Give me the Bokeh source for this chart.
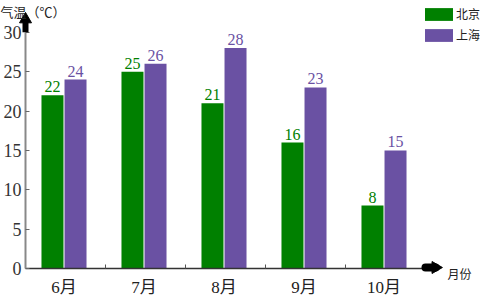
import numpy as np
from bokeh.plotting import figure
from bokeh.models import (Range1d, FixedTicker, Legend, LegendItem, ColumnDataSource)
from bokeh.core.properties import value
from bokeh.embed import file_html
from bokeh.resources import INLINE

months = ["6月", "7月", "8月", "9月", "10月"]
beijing = [22, 25, 21, 16, 8]
shanghai = [24, 26, 28, 23, 15]
y_ticks = [0, 5, 10, 15, 20, 25, 30]

GREEN = "#008000"
PURPLE = "#6a51a3"
SERIF = "'Liberation Serif', 'Noto Sans CJK SC'"
CJK = "'Noto Sans CJK SC'"

n = len(months)
ppx = 80.0          # pixels per category
ppu_y = 238 / 30.0  # pixels per y unit
centers = np.arange(n) + 0.5 - 1.5 / ppx
dodge = 0.144
bw = 0.275

p = figure(width=480, height=299, output_backend="svg", toolbar_location=None,
           x_range=Range1d(0, 455 / ppx), y_range=Range1d(0, 270 / ppu_y),
           min_border_left=25, min_border_right=0, min_border_top=0, min_border_bottom=29)
p.outline_line_color = None
p.xgrid.visible = False
p.ygrid.visible = False
p.background_fill_color = "white"
p.border_fill_color = "white"

src_bj = ColumnDataSource(dict(x=centers - dodge, top=beijing, lab=[str(v) for v in beijing]))
src_sh = ColumnDataSource(dict(x=centers + dodge, top=shanghai, lab=[str(v) for v in shanghai]))

r1 = p.vbar(x="x", top="top", width=bw, bottom=0, source=src_bj, fill_color=GREEN, line_color=None)
r2 = p.vbar(x="x", top="top", width=bw, bottom=0, source=src_sh, fill_color=PURPLE, line_color=None)

p.text(x="x", y="top", text="lab", source=src_bj, text_align="center", text_baseline="bottom",
       y_offset=-3, text_font=value(SERIF), text_font_size="16px", text_color=GREEN)
p.text(x="x", y="top", text="lab", source=src_sh, text_align="center", text_baseline="bottom",
       y_offset=-3, text_font=value(SERIF), text_font_size="16px", text_color=PURPLE)

# x axis
xa = p.xaxis[0]
xa.ticker = FixedTicker(ticks=list(centers), minor_ticks=list(np.arange(1, n)))
xa.major_label_overrides = {float(c): m for c, m in zip(centers, months)}
xa.bounds = (0, n)
xa.major_tick_in = 0
xa.major_tick_out = 0
xa.minor_tick_in = 4
xa.minor_tick_out = 0
xa.minor_tick_line_color = "#555555"
xa.axis_line_color = "#333333"
xa.axis_line_width = 1.5
xa.major_label_text_font = SERIF
xa.major_label_text_font_size = "17px"
xa.major_label_text_color = "#222222"
xa.major_label_standoff = 9

# y axis
ya = p.yaxis[0]
ya.ticker = FixedTicker(ticks=y_ticks)
ya.bounds = (0, 30)
ya.major_tick_in = 4
ya.major_tick_out = 0
ya.minor_tick_line_color = None
ya.major_tick_line_color = "#666666"
ya.axis_line_color = "#888888"
ya.axis_line_width = 2
ya.major_label_text_font = SERIF
ya.major_label_text_font_size = "18px"
ya.major_label_text_color = "#333333"
ya.major_label_standoff = 4

# arrows (overlay level so they are not clipped by the frame)
y_top = 30
y_head = (270 - 19) / ppu_y
p.segment(x0=[0], y0=[y_top], x1=[0], y1=[y_head], line_width=6, line_color="black", level="overlay")
p.scatter(x=[0], y=[y_head], marker="triangle", size=12, fill_color="black", line_color="black",
          level="overlay")
x_head = n + 10 / ppx
p.segment(x0=[n], y0=[1 / ppu_y], x1=[x_head], y1=[1 / ppu_y], line_width=8, line_color="black",
          line_cap="round", level="overlay")
p.scatter(x=[x_head], y=[1 / ppu_y], marker="triangle", size=12, angle=-np.pi / 2,
          fill_color="black", line_color="black", level="overlay")

# axis titles
p.text(x=[-25 / ppx], y=[268 / ppu_y], text=["气温（℃）"], text_font=value(CJK),
       text_font_size="13px", text_baseline="top", text_align="left", text_color="#222222",
       level="overlay")
p.text(x=[(447 - 25) / ppx], y=[-5 / ppu_y], text=["月份"], text_font=value(CJK),
       text_font_size="12px", text_baseline="middle", text_align="left", text_color="#222222",
       level="overlay")

legend = Legend(items=[LegendItem(label="北京", renderers=[r1]),
                       LegendItem(label="上海", renderers=[r2])],
                location=(396, 225), padding=0, margin=0, spacing=4,
                glyph_width=35, glyph_height=16, label_standoff=0,
                label_text_font=CJK, label_text_font_size="12px",
                label_text_color="#222222", label_height=16,
                border_line_color=None, background_fill_alpha=0)
p.add_layout(legend)

open("out.html", "w").write(file_html(p, INLINE))
